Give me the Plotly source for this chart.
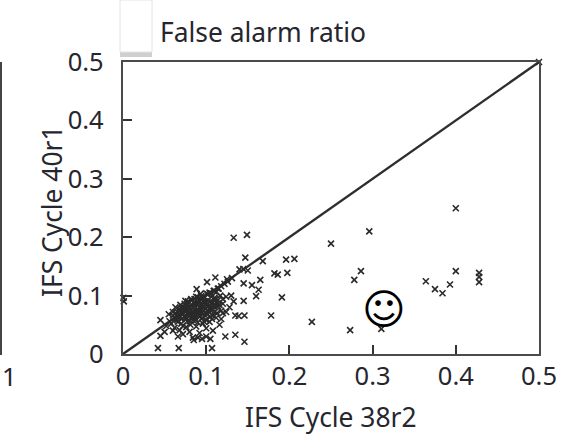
import plotly.graph_objects as go

W, H = 578, 434
L, R, T, B = 123, 539, 62, 354

x_tick_values = [0, 0.1, 0.2, 0.3, 0.4, 0.5]
tick_labels = ["0", "0.1", "0.2", "0.3", "0.4", "0.5"]
title_text = "False alarm ratio"
x_title = "IFS Cycle 38r2"
y_title = "IFS Cycle 40r1"

sparse_x = [0.400,0.296,0.250,0.196,0.206,0.1975,0.182,0.186,0.191,0.178,0.227,0.273,0.3105,0.278,0.286,0.364,0.375,0.384,0.393,0.400,0.428,0.428,0.428,0.500,
            0.133,0.149,0.147,0.168,0.1446,0.140,0.150,0.131,0.125,0.165,0.111,0.101,0.0885,0.145,0.155,0.163,0.160,0.145,0.139,0.146,0.123,0.135,0.146,0.107,0.067,0.042,0.0005,0.001,0.045,0.045,0.130,0.133,0.124,0.118,0.128,0.135]
sparse_y = [0.2495,0.210,0.189,0.1615,0.163,0.139,0.138,0.136,0.097,0.066,0.055,0.041,0.043,0.127,0.142,0.1245,0.111,0.104,0.119,0.142,0.139,0.132,0.123,0.500,
            0.199,0.204,0.165,0.159,0.1455,0.145,0.143,0.130,0.128,0.127,0.131,0.123,0.111,0.121,0.118,0.110,0.099,0.091,0.065,0.066,0.030,0.033,0.021,0.010,0.010,0.010,0.096,0.090,0.058,0.031,0.100,0.090,0.072,0.060,0.080,0.066]

cluster_x = [0.055,0.058,0.060,0.062,0.063,0.065,0.066,0.067,0.068,0.069,0.070,0.071,0.072,0.073,0.074,0.075,0.076,0.077,0.078,0.079,
             0.080,0.081,0.082,0.083,0.084,0.085,0.086,0.087,0.088,0.089,0.090,0.091,0.092,0.093,0.094,0.095,0.096,0.097,0.098,0.099,
             0.100,0.101,0.102,0.103,0.104,0.105,0.106,0.107,0.108,0.109,0.110,0.111,0.112,0.113,0.114,0.115,0.116,0.117,0.118,0.120,
             0.062,0.068,0.072,0.076,0.080,0.084,0.088,0.092,0.096,0.100,0.104,0.108,0.112,0.116,0.120,0.085,0.090,0.095,0.100,0.105,
             0.070,0.074,0.078,0.082,0.086,0.090,0.094,0.098,0.102,0.106,0.110,0.114,0.118,0.122,0.126,0.066,0.060,0.056,0.052,0.050,
             0.065,0.070,0.075,0.080,0.085,0.090,0.095,0.100,0.105,0.110,0.072,0.078,0.084,0.090,0.096,0.102,0.108,0.114,0.120,0.124,
             0.060,0.063,0.066,0.069,0.072,0.075,0.078,0.081,0.084,0.087,0.090,0.093,0.096,0.099,0.102,0.105,0.108,0.111,0.114,0.064,
             0.068,0.072,0.076,0.080,0.084,0.088,0.092,0.096,0.100,0.104,0.108,0.112,0.074,0.079,0.083,0.087,0.091,0.095,0.099,0.103]
cluster_y = [0.068,0.052,0.072,0.061,0.080,0.073,0.055,0.066,0.076,0.084,0.060,0.070,0.048,0.081,0.064,0.091,0.074,0.056,0.085,0.068,
             0.078,0.050,0.094,0.062,0.072,0.088,0.082,0.058,0.098,0.070,0.076,0.092,0.064,0.103,0.084,0.071,0.096,0.056,0.088,0.078,
             0.104,0.068,0.092,0.082,0.105,0.075,0.098,0.060,0.088,0.108,0.096,0.080,0.106,0.070,0.092,0.112,0.084,0.100,0.074,0.094,
             0.045,0.041,0.034,0.046,0.038,0.028,0.047,0.036,0.052,0.044,0.055,0.040,0.062,0.050,0.070,0.024,0.028,0.026,0.030,0.026,
             0.078,0.086,0.090,0.092,0.094,0.097,0.099,0.090,0.102,0.104,0.108,0.112,0.116,0.120,0.124,0.030,0.040,0.056,0.048,0.038,
             0.058,0.052,0.062,0.056,0.066,0.054,0.062,0.058,0.064,0.072,0.078,0.086,0.074,0.086,0.090,0.086,0.076,0.082,0.086,0.098,
             0.066,0.070,0.062,0.074,0.068,0.078,0.072,0.066,0.080,0.074,0.084,0.078,0.068,0.086,0.074,0.090,0.082,0.094,0.086,0.060,
             0.064,0.068,0.060,0.070,0.058,0.066,0.072,0.080,0.070,0.078,0.066,0.088,0.074,0.080,0.068,0.062,0.070,0.076,0.066,0.072]

diag_x = [0, 0.5]
diag_y = [0, 0.5]

def px(x):
    return (x - L) / (R - L)
def py(y):
    return (B - y) / (B - T)

font = "Noto Sans"
ink = "#26262e"
size = 25.5
title_size = 26.4

fig = go.Figure()
fig.add_trace(go.Scatter(x=diag_x, y=diag_y, mode="lines", line=dict(color="#2e2e2e", width=2.4), hoverinfo="skip"))
fig.add_trace(go.Scatter(x=sparse_x + cluster_x, y=sparse_y + cluster_y, mode="markers", cliponaxis=False,
                         marker=dict(symbol="x-thin", size=6, line=dict(width=1.6, color="#2a2a2a"), color="#2a2a2a")))

axis = dict(range=[0, 0.5], tickmode="array", tickvals=x_tick_values, ticktext=tick_labels,
            ticks="inside", ticklen=9, tickwidth=1.6, tickcolor="#333333",
            showline=True, mirror=True, linecolor="#4a4a4a", linewidth=2.4,
            showgrid=False, zeroline=False,
            tickfont=dict(family=font, size=size, color=ink))

fig.update_layout(
    width=W, height=H, showlegend=False, plot_bgcolor="white", paper_bgcolor="white",
    margin=dict(l=L, r=W - R, t=T, b=H - B),
    xaxis=dict(axis, ticklabelstandoff=-2),
    yaxis=dict(axis, ticklabelstandoff=12),
    shapes=[
        dict(type="rect", xref="paper", yref="paper", x0=px(120), x1=px(152), y0=py(57), y1=py(51),
             fillcolor="#cfcfcf", line_width=0, layer="below"),
        dict(type="rect", xref="paper", yref="paper", x0=px(120), x1=px(152), y0=py(52), y1=py(0),
             fillcolor="white", line=dict(color="#e4e4e4", width=1), layer="below"),
        dict(type="line", xref="paper", yref="paper", x0=px(1), x1=px(1), y0=py(62), y1=py(354),
             line=dict(color="#444444", width=2)),
        dict(type="line", xref="paper", yref="paper", x0=px(0), x1=px(2), y0=py(354), y1=py(354),
             line=dict(color="#444444", width=2)),
    ],
    annotations=[
        dict(text=title_text, xref="paper", yref="paper", x=px(158), y=py(32), xanchor="left", yanchor="middle",
             showarrow=False, font=dict(family=font, size=title_size, color=ink)),
        dict(text=x_title, xref="paper", yref="paper", x=px(331), y=py(417), xanchor="center", yanchor="middle",
             showarrow=False, font=dict(family=font, size=title_size, color=ink)),
        dict(text=y_title, xref="paper", yref="paper", x=px(52), y=py(211), xanchor="center", yanchor="middle",
             textangle=-90, showarrow=False, font=dict(family=font, size=title_size, color=ink)),
        dict(text="1", xref="paper", yref="paper", x=px(0), y=py(376), xanchor="left", yanchor="middle",
             showarrow=False, font=dict(family=font, size=size, color=ink)),
        dict(text="☺", xref="paper", yref="paper", x=px(384), y=py(309), xanchor="center", yanchor="middle",
             showarrow=False, font=dict(family="DejaVu Sans", size=42, color="black")),
    ],
)

fig.write_html("out.html", config=dict(displayModeBar=False), post_script="document.body.style.margin='0';")
